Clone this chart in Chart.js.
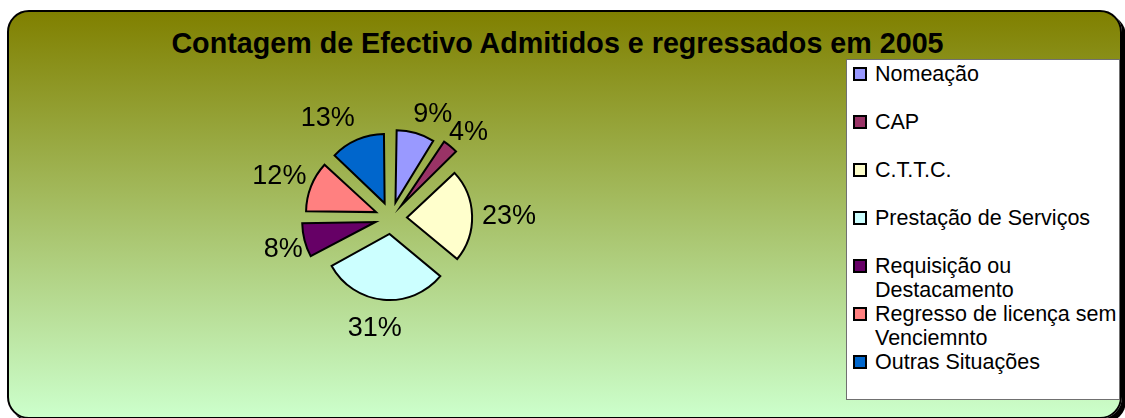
<!DOCTYPE html>
<html>
<head>
<meta charset="utf-8">
<script src="https://cdn.jsdelivr.net/npm/chart.js@4"></script>
<style>
  html, body { margin: 0; padding: 0; width: 1125px; height: 418px; overflow: hidden; background: #fff; }
  .frame {
    position: absolute; left: 7px; top: 10px; width: 1115px; height: 409px;
    box-sizing: border-box; border: 2px solid #000; border-radius: 22px;
    background: linear-gradient(to bottom, #808000, #ccffcc);
    box-shadow: 4px 4px 0 #000;
  }
  .title {
    position: absolute; left: 0; top: 29px; width: 1115px; text-align: center;
    font: bold 28.7px "Liberation Sans", Arial, sans-serif; line-height: 1; color: #000;
    white-space: nowrap;
  }
  #chart { position: absolute; left: 211px; top: 38px; }
  .legend {
    position: absolute; left: 846px; top: 59px; width: 274px; height: 341px;
    box-sizing: border-box; border: 1px solid #707070; background: #fff;
    padding-top: 2px;
  }
  .item { position: relative; height: 48px; }
  .item .box {
    position: absolute; left: 6px; top: 5px; width: 14px; height: 14px;
    box-sizing: border-box; border: 2px solid #000;
  }
  .item .txt {
    position: absolute; left: 28px; top: 0; width: 246px;
    font: 21.5px "Liberation Sans", Arial, sans-serif; line-height: 24px; color: #000;
  }
</style>
</head>
<body>
<div class="frame"></div>
<div class="title">Contagem de Efectivo Admitidos e regressados em 2005</div>
<canvas id="chart" width="360" height="360"></canvas>
<div class="legend" id="legend"></div>
<script>
// categorias e valores (percentagem)
const categories = [
  'Nomeação',
  'CAP',
  'C.T.T.C.',
  'Prestação de Serviços',
  'Requisição ou Destacamento',
  'Regresso de licença sem Venciemnto',
  'Outras Situações'
];
const percentages = [9, 4, 23, 31, 8, 12, 13];
const sliceColors = ['#9999ff', '#993366', '#ffffcc', '#ccffff', '#660066', '#ff8080', '#0066cc'];

// legenda em HTML
const legendEl = document.getElementById('legend');
categories.forEach((name, i) => {
  const item = document.createElement('div');
  item.className = 'item';
  item.innerHTML = '<span class="box" style="background:' + sliceColors[i] + '"></span><span class="txt"></span>';
  item.querySelector('.txt').textContent = name;
  legendEl.appendChild(item);
});

// Chart.js v4 desloca a fatia de offset/4 px
const EXPLODE = 16;

// rótulos de percentagem fora das fatias
const pctLabels = {
  id: 'pctLabels',
  afterDatasetsDraw(chart) {
    const ctx = chart.ctx;
    const meta = chart.getDatasetMeta(0);
    const size = 27;
    ctx.save();
    ctx.font = size + 'px "Liberation Sans", Arial, sans-serif';
    ctx.fillStyle = '#000';
    ctx.textAlign = 'center';
    ctx.textBaseline = 'alphabetic';
    meta.data.forEach((arc, i) => {
      const p = arc.getProps(['x', 'y', 'startAngle', 'endAngle', 'outerRadius'], true);
      const mid = (p.startAngle + p.endAngle) / 2;
      const ux = Math.cos(mid), uy = Math.sin(mid);
      const r0 = p.outerRadius + EXPLODE + 10;
      const text = percentages[i] + '%';
      const w = ctx.measureText(text).width;
      const clamp = v => Math.max(-1, Math.min(1, v));
      const cx = p.x + ux * r0 + clamp(ux * 3) * w / 2;
      const cy = p.y + uy * r0 + clamp(uy * 1.5) * 18;
      ctx.fillText(text, cx, cy + size * 0.358);
    });
    ctx.restore();
  }
};

new Chart(document.getElementById('chart'), {
  type: 'pie',
  data: {
    labels: categories,
    datasets: [{
      data: percentages,
      backgroundColor: sliceColors,
      borderColor: '#000',
      borderWidth: 2,
      borderJoinStyle: 'miter',
      offset: EXPLODE * 4
    }]
  },
  options: {
    responsive: false,
    maintainAspectRatio: false,
    animation: false,
    devicePixelRatio: 1,
    radius: 65,
    layout: { padding: 0 },
    plugins: {
      legend: { display: false },
      title: { display: false },
      tooltip: { enabled: false }
    }
  },
  plugins: [pctLabels]
});
</script>
</body>
</html>
